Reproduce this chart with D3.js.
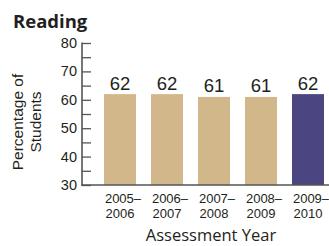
<!DOCTYPE html>
<html><head><meta charset="utf-8">
<script src="https://cdn.jsdelivr.net/npm/d3@7"></script>
<style>html,body{margin:0;padding:0;background:#fff;overflow:hidden}</style>
</head><body>
<svg id="c" width="329" height="246"></svg>
<script>
const categories = [["2005–","2006"],["2006–","2007"],["2007–","2008"],["2008–","2009"],["2009–","2010"]];
const values = [62, 62, 61, 61, 62];
const yTicks = [30, 40, 50, 60, 70, 80];
const minorTicks = [35, 45, 55, 65, 75];
const highlight = [false, false, false, false, true];

const svg = d3.select("#c");
const keys = categories.map(c => c.join(""));
const x = d3.scaleBand().domain(keys).range([82, 346]).paddingInner(0.319).paddingOuter(0.468);
const y = d3.scaleLinear().domain([30, 80]).range([185, 43]);

// Title
svg.append("text").attr("x", 13).attr("y", 27.5)
  .attr("font-family", "'Open Sans', Lato, sans-serif").attr("font-weight", "bold")
  .attr("font-size", 18.5).attr("fill", "#231f20").text("Reading");

// Bars
svg.selectAll("rect.bar").data(values).join("rect")
  .attr("x", (d, i) => x(keys[i])).attr("width", x.bandwidth())
  .attr("y", d => y(d)).attr("height", d => y(30) - y(d))
  .attr("fill", (d, i) => highlight[i] ? "#4b4582" : "#d2b78a");

// Value labels
svg.selectAll("text.val").data(values).join("text")
  .attr("x", (d, i) => x(keys[i]) + x.bandwidth() / 2)
  .attr("y", d => y(d) - 4.5)
  .attr("text-anchor", "middle")
  .attr("font-family", "'Liberation Sans', Arial, sans-serif")
  .attr("font-size", 18.5).attr("fill", "#231f20").text(d => d);

// Y axis
const yAxis = d3.axisRight(y).tickValues(yTicks.concat(minorTicks)).tickSize(9).tickFormat("");
const ga = svg.append("g").attr("transform", "translate(82,0)").call(yAxis);
ga.select(".domain").remove();
ga.selectAll(".tick line").attr("stroke", "#555").attr("stroke-width", 1.3);
svg.append("line").attr("x1", 82).attr("x2", 82).attr("y1", y(80) - 0.6).attr("y2", y(30) + 0.7)
  .attr("stroke", "#555").attr("stroke-width", 1.6);
// y tick labels
svg.selectAll("text.yt").data(yTicks).join("text")
  .attr("x", 77).attr("y", d => y(d) + 5)
  .attr("text-anchor", "end")
  .attr("font-family", "'Liberation Sans', Arial, sans-serif")
  .attr("font-size", 14.5).attr("fill", "#231f20").text(d => d);

// X axis baseline
svg.append("line").attr("x1", 81.2).attr("x2", 329).attr("y1", y(30)).attr("y2", y(30))
  .attr("stroke", "#555").attr("stroke-width", 1.6);

// X tick labels
const xl = svg.selectAll("text.xt").data(categories).join("text")
  .attr("text-anchor", "middle")
  .attr("font-family", "'Liberation Sans', Arial, sans-serif")
  .attr("font-size", 13).attr("fill", "#231f20");
xl.each(function(d, i) {
  const cx = x(keys[i]) + x.bandwidth() / 2;
  const t = d3.select(this);
  t.append("tspan").attr("x", cx + 3).attr("y", 203).text(d[0]);
  t.append("tspan").attr("x", cx).attr("y", 218).text(d[1]);
});

// X axis title
svg.append("text").attr("x", 211).attr("y", 241).attr("text-anchor", "middle")
  .attr("font-family", "'Open Sans', Lato, sans-serif")
  .attr("font-size", 16.5).attr("fill", "#231f20").text("Assessment Year");

// Y axis title
const yt = svg.append("text").attr("transform", "translate(0,122) rotate(-90)")
  .attr("text-anchor", "middle")
  .attr("font-family", "'Liberation Sans', Arial, sans-serif")
  .attr("font-size", 15.5).attr("fill", "#231f20");
yt.append("tspan").attr("x", 0).attr("y", 23).text("Percentage of");
yt.append("tspan").attr("x", 0).attr("y", 41).text("Students");
</script>
</body></html>
